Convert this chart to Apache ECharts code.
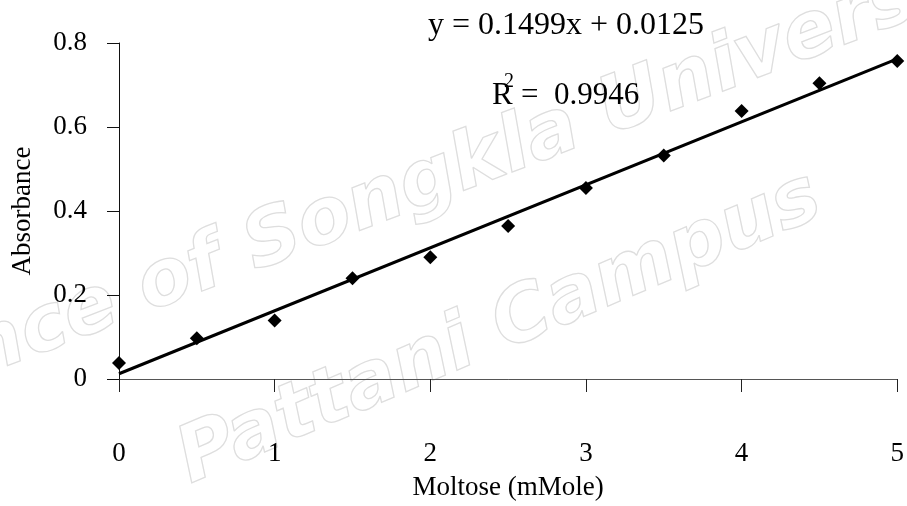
<!DOCTYPE html>
<html>
<head>
<meta charset="utf-8">
<script src="https://cdn.jsdelivr.net/npm/echarts@6/dist/echarts.min.js"></script>
<style>
html,body{margin:0;padding:0;background:#fff;}
#chart{width:907px;height:506px;}
</style>
</head>
<body>
<div id="chart"></div>
<script>
// Data
const concentrations = [0, 0.5, 1, 1.5, 2, 2.5, 3, 3.5, 4, 4.5, 5];
const absorbance = [0.038, 0.097, 0.139, 0.240, 0.290, 0.364, 0.455, 0.532, 0.638, 0.704, 0.757];
const slope = 0.1499;
const intercept = 0.0125;
const fitRange = [0, 5];
const equationText = 'y = 0.1499x + 0.0125';
const r2Value = '0.9946';
const xTitle = 'Moltose (mMole)';
const yTitle = 'Absorbance';
const watermarkLines = ['Prince of Songkla University', 'Pattani Campus'];

const FONT = '"Liberation Serif", "Times New Roman", serif';

const points = concentrations.map((x, i) => [x, absorbance[i]]);
const fitLine = fitRange.map(x => [x, slope * x + intercept]);

const chart = echarts.init(document.getElementById('chart'), null, {renderer: 'canvas'});
chart.setOption({
  animation: false,
  backgroundColor: '#ffffff',
  grid: {left: 119, right: 6, top: 43, bottom: 127},
  xAxis: {
    type: 'value', min: 0, max: 5, interval: 1,
    name: xTitle, nameLocation: 'middle', nameGap: 95,
    nameTextStyle: {fontFamily: FONT, fontSize: 27, color: '#000'},
    axisLine: {show: true, onZero: false, lineStyle: {color: '#555', width: 1}},
    axisTick: {show: true, inside: false, length: 13, lineStyle: {color: '#222', width: 1}},
    axisLabel: {margin: 61, fontFamily: FONT, fontSize: 27, color: '#000'},
    splitLine: {show: false}
  },
  yAxis: {
    type: 'value', min: 0, max: 0.8, interval: 0.2,
    name: yTitle, nameLocation: 'middle', nameGap: 83, nameRotate: 90,
    nameTextStyle: {fontFamily: FONT, fontSize: 27, color: '#000'},
    axisLine: {show: true, onZero: false, lineStyle: {color: '#111', width: 1}},
    axisTick: {show: true, inside: false, length: 12, lineStyle: {color: '#111', width: 1}},
    axisLabel: {margin: 32, fontFamily: FONT, fontSize: 27, color: '#000'},
    splitLine: {show: false}
  },
  graphic: [
    {
      type: 'text', x: 440, y: 178, rotation: 21 * Math.PI / 180, z: -10, silent: true,
      style: {text: watermarkLines[0], x: 0, y: 0, align: 'center', verticalAlign: 'middle',
        font: 'italic bold 78px "DejaVu Sans"', fill: 'rgba(0,0,0,0)', stroke: '#dedede', lineWidth: 1.3}
    },
    {
      type: 'text', x: 500, y: 330, rotation: 23 * Math.PI / 180, z: -10, silent: true,
      style: {text: watermarkLines[1], x: 0, y: 0, align: 'center', verticalAlign: 'middle',
        font: 'italic bold 78px "DejaVu Sans"', fill: 'rgba(0,0,0,0)', stroke: '#dedede', lineWidth: 1.3}
    },
    {
      type: 'text', x: 428, y: 26, z: 10,
      style: {text: equationText, align: 'left', verticalAlign: 'middle',
        font: '32px ' + FONT, fill: '#000'}
    },
    {
      type: 'text', x: 492, y: 96, z: 10,
      style: {text: 'R', align: 'left', verticalAlign: 'middle', font: '31px ' + FONT, fill: '#000'}
    },
    {
      type: 'text', x: 504, y: 82, z: 11,
      style: {text: '2', align: 'left', verticalAlign: 'middle', font: '20px ' + FONT, fill: '#000'}
    },
    {
      type: 'text', x: 521, y: 96, z: 10,
      style: {text: '=', align: 'left', verticalAlign: 'middle', font: '31px ' + FONT, fill: '#000'}
    },
    {
      type: 'text', x: 554, y: 96, z: 10,
      style: {text: r2Value, align: 'left', verticalAlign: 'middle', font: '31px ' + FONT, fill: '#000'}
    }
  ],
  series: [
    {
      type: 'line', data: fitLine, symbol: 'none', z: 2,
      lineStyle: {color: '#000', width: 3}
    },
    {
      type: 'scatter', data: points, symbol: 'diamond', symbolSize: 14, z: 3,
      itemStyle: {color: '#000', opacity: 1}
    }
  ]
});
</script>
</body>
</html>
